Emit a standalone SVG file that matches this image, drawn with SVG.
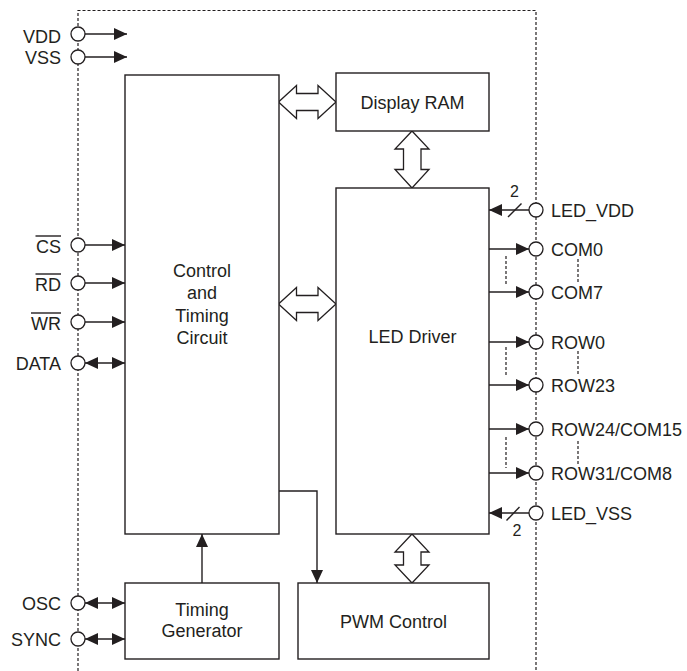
<svg xmlns="http://www.w3.org/2000/svg" width="687" height="671" viewBox="0 0 687 671">
<style>
.box{fill:#fff;stroke:#231f20;stroke-width:1.4}
.bus{fill:#fff;stroke:#231f20;stroke-width:1.3;stroke-linejoin:miter}
.ln{fill:none;stroke:#231f20;stroke-width:1.4}
.dash{fill:none;stroke:#231f20;stroke-width:1.2;stroke-dasharray:3,2}
.pin{fill:#fff;stroke:#231f20;stroke-width:1.3}
text{font-family:"Liberation Sans",Arial,sans-serif;font-size:18px;fill:#231f20}
.c{text-anchor:middle}
.e{text-anchor:end}
.sm{font-size:16px}
</style>
<defs>
<marker id="ah" viewBox="0 0 13 12" refX="13" refY="6" markerWidth="13" markerHeight="12" markerUnits="userSpaceOnUse" orient="auto-start-reverse">
<path d="M0,0 L13,6 L0,12 z" fill="#231f20"/>
</marker>
</defs>
<rect width="687" height="671" fill="#fff"/>

<g id="border">
<path class="dash" d="M78,671 V10.5 H536 V671"/>
</g>

<g id="connectors">
<!-- left power -->
<line class="ln" x1="85" y1="34" x2="127" y2="34" marker-end="url(#ah)"/>
<line class="ln" x1="85" y1="57" x2="127" y2="57" marker-end="url(#ah)"/>
<!-- left control inputs -->
<line class="ln" x1="85" y1="245" x2="125" y2="245" marker-end="url(#ah)"/>
<line class="ln" x1="85" y1="283" x2="125" y2="283" marker-end="url(#ah)"/>
<line class="ln" x1="85" y1="322" x2="125" y2="322" marker-end="url(#ah)"/>
<line class="ln" x1="85" y1="363" x2="125" y2="363" marker-start="url(#ah)" marker-end="url(#ah)"/>
<line class="ln" x1="85" y1="603" x2="125" y2="603" marker-start="url(#ah)" marker-end="url(#ah)"/>
<line class="ln" x1="85" y1="639" x2="125" y2="639" marker-start="url(#ah)" marker-end="url(#ah)"/>
<!-- timing gen to control -->
<line class="ln" x1="202" y1="583" x2="202" y2="534" marker-end="url(#ah)"/>
<!-- control to PWM -->
<path class="ln" d="M279,491 H317 V583" marker-end="url(#ah)"/>
<!-- hollow bus arrows -->
<path class="bus" d="M278.5,102 L296.5,85.5 V93.5 H318 V85.5 L336,102 L318,118.5 V110.5 H296.5 V118.5 Z"/>
<path class="bus" d="M278.5,304 L296.5,287.5 V295.5 H318 V287.5 L336,304 L318,320.5 V312.5 H296.5 V320.5 Z"/>
<path class="bus" d="M412,131 L429,149 H421 V169.5 H429 L412,188 L395,169.5 H403.5 V149 H395 Z"/>
<path class="bus" d="M412,534 L429,552 H421 V565 H429 L412,583 L395,565 H403.5 V552 H395 Z"/>
<!-- right pins -->
<line class="ln" x1="529" y1="210" x2="489" y2="210" marker-end="url(#ah)"/>
<line class="ln" x1="508" y1="217" x2="521.5" y2="203.5"/>
<line class="ln" x1="489" y1="249" x2="529" y2="249" marker-end="url(#ah)"/>
<line class="ln" x1="489" y1="292" x2="529" y2="292" marker-end="url(#ah)"/>
<line class="ln" x1="489" y1="342" x2="529" y2="342" marker-end="url(#ah)"/>
<line class="ln" x1="489" y1="385" x2="529" y2="385" marker-end="url(#ah)"/>
<line class="ln" x1="489" y1="429" x2="529" y2="429" marker-end="url(#ah)"/>
<line class="ln" x1="489" y1="473" x2="529" y2="473" marker-end="url(#ah)"/>
<line class="ln" x1="529" y1="513" x2="489" y2="513" marker-end="url(#ah)"/>
<line class="ln" x1="506.5" y1="520.5" x2="519.5" y2="507"/>
<!-- ellipsis dashes -->
<line class="dash" x1="506" y1="256" x2="506" y2="286"/>
<line class="dash" x1="578" y1="259" x2="578" y2="283"/>
<line class="dash" x1="506" y1="347" x2="506" y2="377"/>
<line class="dash" x1="578" y1="351" x2="578" y2="375"/>
<line class="dash" x1="506" y1="437" x2="506" y2="468"/>
<line class="dash" x1="578" y1="441" x2="578" y2="465"/>
</g>

<g id="pins">
<circle class="pin" cx="78" cy="34" r="7"/>
<circle class="pin" cx="78" cy="57" r="7"/>
<circle class="pin" cx="78" cy="245" r="7"/>
<circle class="pin" cx="78" cy="283" r="7"/>
<circle class="pin" cx="78" cy="322" r="7"/>
<circle class="pin" cx="78" cy="363" r="7"/>
<circle class="pin" cx="78" cy="603" r="7"/>
<circle class="pin" cx="78" cy="639" r="7"/>
<circle class="pin" cx="536" cy="210" r="7"/>
<circle class="pin" cx="536" cy="249" r="7"/>
<circle class="pin" cx="536" cy="292" r="7"/>
<circle class="pin" cx="536" cy="342" r="7"/>
<circle class="pin" cx="536" cy="385" r="7"/>
<circle class="pin" cx="536" cy="429" r="7"/>
<circle class="pin" cx="536" cy="473" r="7"/>
<circle class="pin" cx="536" cy="513" r="7"/>
</g>

<g id="pin-labels">
<text class="e" x="61" y="43">VDD</text>
<text class="e" x="61" y="64">VSS</text>
<text class="e" x="61" y="253">CS</text>
<line class="ln" x1="35.5" y1="236" x2="61" y2="236"/>
<text class="e" x="61" y="291">RD</text>
<line class="ln" x1="35.5" y1="274" x2="61" y2="274"/>
<text class="e" x="61" y="330">WR</text>
<line class="ln" x1="31" y1="313" x2="61" y2="313"/>
<text class="e" x="61" y="369.5">DATA</text>
<text class="e" x="61" y="609.5">OSC</text>
<text class="e" x="61" y="645.5">SYNC</text>
<text class="sm c" x="514.5" y="197">2</text>
<text x="551" y="216.5">LED_VDD</text>
<text x="551" y="255.5">COM0</text>
<text x="551" y="298.5">COM7</text>
<text x="551" y="348.5">ROW0</text>
<text x="551" y="391.5">ROW23</text>
<text x="551" y="435.5">ROW24/COM15</text>
<text x="551" y="479.5">ROW31/COM8</text>
<text x="551" y="519.5">LED_VSS</text>
<text class="sm c" x="517" y="536">2</text>
</g>

<g id="control">
<rect class="box" x="125" y="75" width="154" height="459"/>
<text class="c" x="202" y="277">Control</text>
<text class="c" x="202" y="299">and</text>
<text class="c" x="202" y="322">Timing</text>
<text class="c" x="202" y="344">Circuit</text>
</g>

<g id="display-ram">
<rect class="box" x="336" y="73" width="153" height="58"/>
<text class="c" x="412.5" y="108.5">Display RAM</text>
</g>

<g id="led-driver">
<rect class="box" x="336" y="188" width="153" height="346"/>
<text class="c" x="412.5" y="343">LED Driver</text>
</g>

<g id="timing-generator">
<rect class="box" x="125" y="583" width="154" height="76"/>
<text class="c" x="202" y="615.5">Timing</text>
<text class="c" x="202" y="637">Generator</text>
</g>

<g id="pwm-control">
<rect class="box" x="298" y="583" width="191" height="76"/>
<text class="c" x="393.5" y="627.5">PWM Control</text>
</g>
</svg>
